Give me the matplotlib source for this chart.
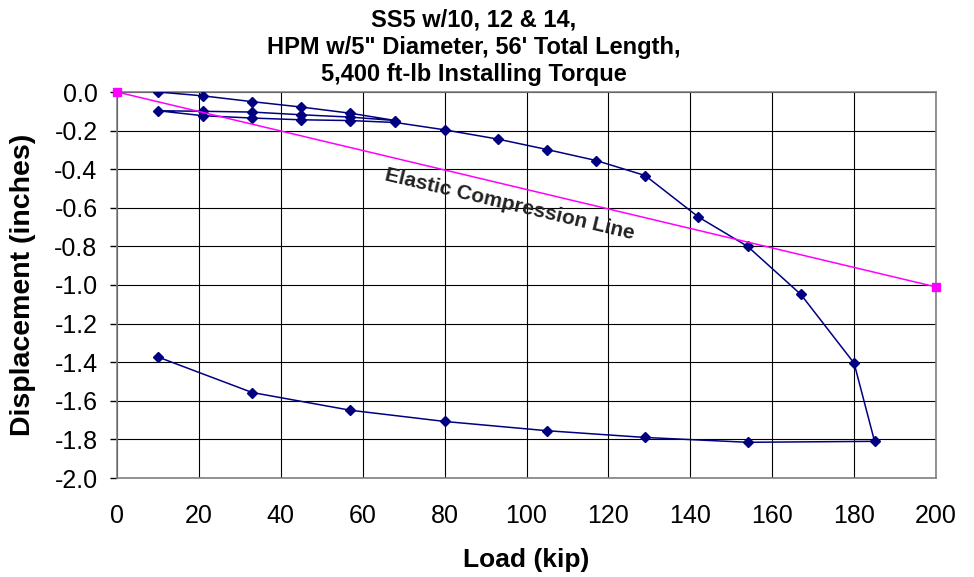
import matplotlib
matplotlib.use("Agg")
import matplotlib.pyplot as plt

plt.rcParams["font.family"] = ["Liberation Sans", "DejaVu Sans"]
plt.rcParams["axes.unicode_minus"] = False

# load test sequence: load, unload, reload, ultimate, unload
load_kip = [10, 21, 33, 45, 57, 68,
            57, 45, 33, 21, 10,
            21, 33, 45, 57, 68, 80, 93, 105, 117, 129, 142, 154, 167, 180, 185,
            154, 129, 105, 80, 57, 33, 10]
displacement_in = [0.0, -0.02, -0.05, -0.078, -0.11, -0.148,
                   -0.13, -0.118, -0.104, -0.10, -0.097,
                   -0.123, -0.135, -0.144, -0.148, -0.158, -0.196, -0.244, -0.298,
                   -0.355, -0.433, -0.648, -0.80, -1.049, -1.405, -1.81,
                   -1.815, -1.79, -1.755, -1.707, -1.649, -1.557, -1.373]

elastic_load = [0, 200]
elastic_disp = [0.0, -1.01]

x_ticks = list(range(0, 201, 20))
y_ticks = [round(-0.2 * i, 1) for i in range(11)]
y_labels = [f"{abs(v):.1f}" if v == 0 else f"{v:.1f}" for v in y_ticks]

title_lines = ["SS5 w/10, 12 & 14,",
               "HPM w/5\" Diameter, 56' Total Length,",
               "5,400 ft-lb Installing Torque"]

fig = plt.figure(figsize=(9.74, 5.77), dpi=100)
ax = fig.add_axes([117 / 974, 1 - 478 / 577, (936 - 117) / 974, (478 - 92) / 577])

ax.plot(load_kip, displacement_in, color="#000080", lw=1.1,
        marker="D", ms=5.5, zorder=3)
ax.plot(elastic_load, elastic_disp, color="#FF00FF", lw=1.1,
        marker="s", ms=6, zorder=4, clip_on=False)

ax.set_xlim(0, 200)
ax.set_ylim(-2.0, 0.0)
ax.set_xticks(x_ticks)
ax.set_yticks(y_ticks)
ax.set_yticklabels(y_labels)
ax.grid(True, color="black", lw=0.8)
ax.set_axisbelow(True)
for s in ax.spines.values():
    s.set_color("#808080")
    s.set_linewidth(1.2)

ax.tick_params(axis="x", length=0, pad=19, labelsize=18)
ax.tick_params(axis="y", length=5, width=1, color="black", pad=9, labelsize=18)

ax.set_xlabel("Load (kip)", fontsize=19, fontweight="bold", labelpad=14)
ax.set_ylabel("Displacement (inches)", fontsize=20.5, fontweight="bold", labelpad=13)

for i, line in enumerate(title_lines):
    fig.text(474 / 974, 1 - (27 + 27 * i) / 577, line, ha="center", va="baseline",
             fontsize=17, fontweight="bold")

ax.text(96, -0.585, "Elastic Compression Line", fontsize=15, fontweight="bold",
        color="#222222", rotation=-13.4, ha="center", va="center")

fig.savefig("out.png", dpi=100)
